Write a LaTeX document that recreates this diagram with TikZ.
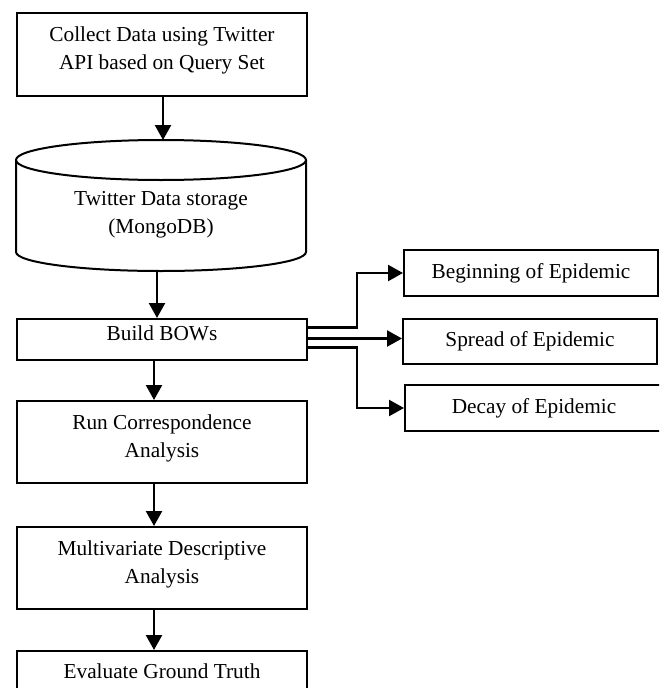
\documentclass[tikz,border=0pt]{standalone}
\usepackage{fontspec}
\setmainfont{Liberation Serif}
\usepackage{tikz}
\usetikzlibrary{calc}
\usetikzlibrary{arrows.meta}

\begin{document}
\begin{tikzpicture}[x=1pt, y=-1pt,
	stepbox/.style={rectangle, draw=black, line width=2pt, minimum width=290pt, anchor=north west, align=center, inner sep=0pt, text depth=12pt, font=\fontsize{21.3}{28}\selectfont},
	phasebox/.style={rectangle, draw=black, line width=2pt, minimum width=254pt, minimum height=46pt, anchor=north west, inner sep=0pt, font=\fontsize{21.3}{28}\selectfont},
	flow/.style={line width=2.3pt, -{Triangle[length=15pt,width=16pt]}}]

\useasboundingbox (0,0) rectangle (659,688);
\clip (0,0) rectangle (659,688);

%\draw[step=50pt, gray, very thin, dotted] (0,0) grid (659,688);

\node at (16,12) [stepbox, minimum height=83pt] (collect) {Collect Data using Twitter\\API based on Query Set};

% storage drum
\draw[line width=2pt] (161,160) ellipse [x radius=145pt, y radius=20pt];
\draw[line width=2pt] (16,160) -- (16,252) arc [start angle=180, end angle=360, x radius=145pt, y radius=19pt] -- (306,160);
\coordinate (storetop) at (163,140);
\coordinate (storebot) at (157,270);
\node at (161,215) [align=center, font=\fontsize{21.3}{28}\selectfont] (store) {Twitter Data storage\\(MongoDB)};

\node at (16,318) [stepbox, minimum height=41pt] (bows) {Build BOWs};
\node at (16,400) [stepbox, minimum height=82pt] (run) {Run Correspondence\\Analysis};
\node at (16,526) [stepbox, minimum height=82pt] (multi) {Multivariate Descriptive\\Analysis};
\node at (16,650) [stepbox, minimum height=53pt] (evaluate) {Evaluate Ground Truth};

\node at (403,249) [phasebox] (begin) {Beginning of Epidemic};
\node at (402,318) [phasebox, minimum height=45pt] (spread) {Spread of Epidemic};
\node at (404,384) [phasebox, minimum width=258pt] (decay) {Decay of Epidemic};

\draw [flow] (collect.south -| storetop) -- (storetop);
\draw [flow] (storebot) -- (storebot |- bows.north);
\draw [flow] ([xshift=-8pt]bows.south) -- ([xshift=-8pt]run.north);
\draw [flow] ([xshift=-8pt]run.south) -- ([xshift=-8pt]multi.north);
\draw [flow] ([xshift=-8pt]multi.south) -- ([xshift=-8pt]evaluate.north);

\draw [flow] ([yshift=12pt]bows.east) -- ++(49,0) |- (begin.west);
\draw [flow] ([yshift=1pt]bows.east) -- ([yshift=1pt]bows.east -| spread.west);
\draw [flow] ([yshift=-8pt]bows.east) -- ++(49,0) |- (decay.west);

\end{tikzpicture}
\end{document}
